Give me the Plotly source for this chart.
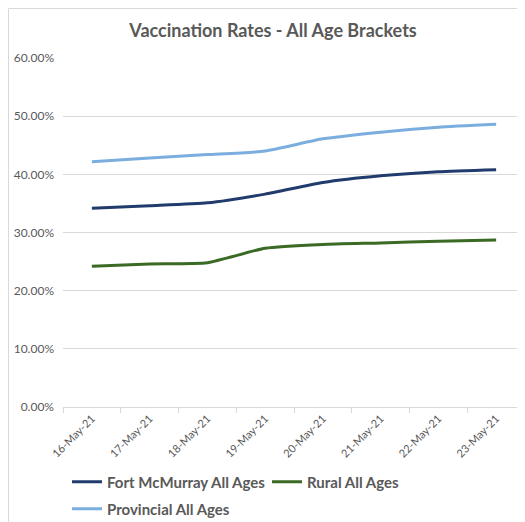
import plotly.graph_objects as go

dates = ["16-May-21", "17-May-21", "18-May-21", "19-May-21",
         "20-May-21", "21-May-21", "22-May-21", "23-May-21"]
fort_mcmurray = [0.3415, 0.3460, 0.3510, 0.3660, 0.3860, 0.3975, 0.4045, 0.4080]
rural = [0.2420, 0.2460, 0.2480, 0.2730, 0.2795, 0.2820, 0.2850, 0.2870]
provincial = [0.4215, 0.4280, 0.4340, 0.4400, 0.4610, 0.4725, 0.4810, 0.4860]
y_ticks = [0, 0.1, 0.2, 0.3, 0.4, 0.5, 0.6]

GRAY = "#595959"
FONT = "Lato"

# The page places the figure at an 8px offset (body margin); positions below
# are given in figure pixels.
W, H = 517, 514
L, R, T, B = 55, 0, 50, 115
pw, ph = W - L - R, H - T - B

def px_x(p):
    return (p - L) / pw

def px_y(p):
    return (H - B - p) / ph

fig = go.Figure()
for name, vals, color, leg in [
    ("Fort McMurray All Ages", fort_mcmurray, "#203B6C", "legend"),
    ("Rural All Ages", rural, "#3B6A25", "legend"),
    ("Provincial All Ages", provincial, "#7BAEDF", "legend2"),
]:
    fig.add_trace(go.Scatter(
        x=dates, y=vals, name=name, mode="lines", legend=leg,
        line=dict(color=color, width=3, shape="spline", smoothing=0.5),
    ))

legend_common = dict(orientation="h", xanchor="left", yanchor="middle",
                     entrywidth=155,
                     font=dict(family=FONT, size=15, color=GRAY,
                               weight="bold"),
                     bgcolor="rgba(0,0,0,0)")

fig.update_layout(
    width=W, height=H,
    margin=dict(l=L, r=R, t=T, b=B, pad=0, autoexpand=False),
    paper_bgcolor="white", plot_bgcolor="white",
    font=dict(family=FONT, color=GRAY),
    title=dict(text="<b>Vaccination Rates - All Age Brackets</b>",
               x=265 / W, xref="container", xanchor="center",
               y=1 - 23 / H, yref="container", yanchor="middle",
               pad=dict(t=0, b=0, l=0, r=0),
               font=dict(family=FONT, size=18, color=GRAY)),
    xaxis=dict(type="category", range=[-0.5, 7.5], tickson="boundaries",
               ticks="outside", ticklen=5, tickcolor="#d9d9d9",
               showline=True, linecolor="#d9d9d9", linewidth=1,
               showgrid=False, tickangle=-45, automargin=False,
               tickfont=dict(family=FONT, size=11, color=GRAY)),
    yaxis=dict(range=[0, 0.6], tickvals=y_ticks, tickformat=".2%",
               showgrid=True, gridcolor="#d9d9d9", gridwidth=1,
               zeroline=False, showline=False, ticks="",
               ticklabelstandoff=8, automargin=False,
               tickfont=dict(family=FONT, size=12, color=GRAY)),
    showlegend=True,
    legend=dict(legend_common, x=px_x(59), y=px_y(474)),
    legend2=dict(legend_common, x=px_x(59), y=px_y(501)),
    shapes=[dict(type="rect", xref="paper", yref="paper",
                 x0=px_x(0.5), x1=px_x(540), y0=px_y(540), y1=px_y(0.5),
                 line=dict(color="#d9d9d9", width=1), layer="below")],
)

fig.write_html("out.html")
